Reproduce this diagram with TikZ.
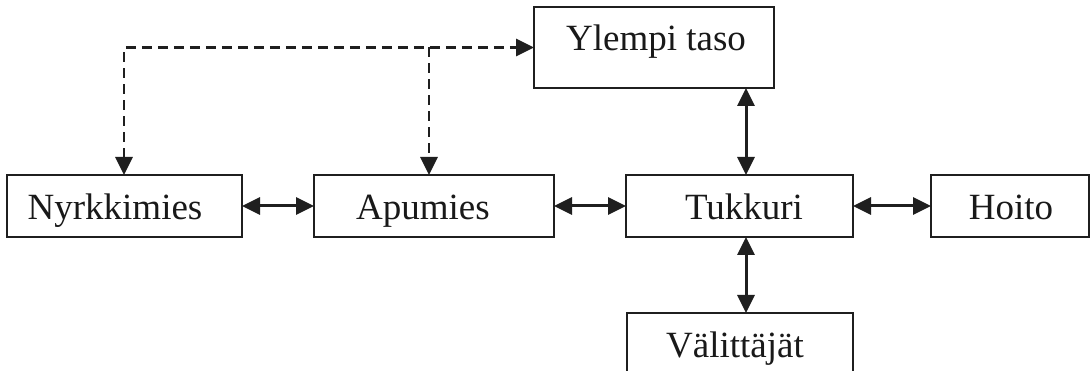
\documentclass[tikz,border=0pt]{standalone}
\usepackage{fontspec}
\setmainfont{Liberation Serif}
\usetikzlibrary{arrows.meta}
\tikzset{
  box/.style={draw, line width=2.4pt, inner sep=0pt, outer sep=0pt, color=black!88},
  lbl/.style={inner sep=0pt, font=\fontsize{37}{44}\selectfont, text height=25pt, text depth=0pt, text=black!90},
  conn/.style={line width=3pt, color=black!88, {Triangle[length=18pt,width=17pt]}-{Triangle[length=18pt,width=17pt]}},
  dsh/.style={line width=2.8pt, color=black!88, dash pattern=on 10pt off 6pt},
}
\begin{document}
\begin{tikzpicture}[x=1pt,y=-1pt]
\clip (0,0) rectangle (1092,371);
\fill[white] (0,0) rectangle (1092,371);
% boxes
\node[box, minimum width=235pt, minimum height=62pt] (nyr) at (124.5,206) {};
\node[box, minimum width=240pt, minimum height=62pt] (apu) at (434,206) {};
\node[box, minimum width=227pt, minimum height=62pt] (tuk) at (739.5,206) {};
\node[box, minimum width=158pt, minimum height=62pt] (hoi) at (1010,206) {};
\node[box, minimum width=240pt, minimum height=81pt] (yt) at (654,47.5) {};
\node[box, minimum width=226pt, minimum height=64pt] (val) at (740,345) {};
% labels
\node[lbl] (nyrt) at (115,207.5) {Nyrkkimies};
\node[lbl] (aput) at (423,207.5) {Apumies};
\node[lbl] (tukt) at (744,207.5) {Tukkuri};
\node[lbl] (hoit) at (1011,207.5) {Hoito};
\node[lbl] (ytt) at (656,38.5) {Ylempi taso};
\node[lbl] (valt) at (735,345) {Välittäjät};
% coordinates
\coordinate (c1) at (124,47.5);
\coordinate (c2) at (429,47.5);
\coordinate (v) at (746,0);
% dashed connectors
\draw[dsh, {Triangle[length=18pt,width=17pt]}-{Triangle[length=18pt,width=17pt]}] (nyr.north -| c1) -- (c1) -- (yt.west);
\draw[dsh, -{Triangle[length=18pt,width=17pt]}] (c2) -- (c2 |- apu.north);
% solid connectors
\draw[conn] (nyr.east) -- (apu.west);
\draw[conn] (apu.east) -- (tuk.west);
\draw[conn] (tuk.east) -- (hoi.west);
\draw[conn] (yt.south -| v) -- (tuk.north -| v);
\draw[conn] (tuk.south -| v) -- (val.north -| v);
\end{tikzpicture}
\end{document}
